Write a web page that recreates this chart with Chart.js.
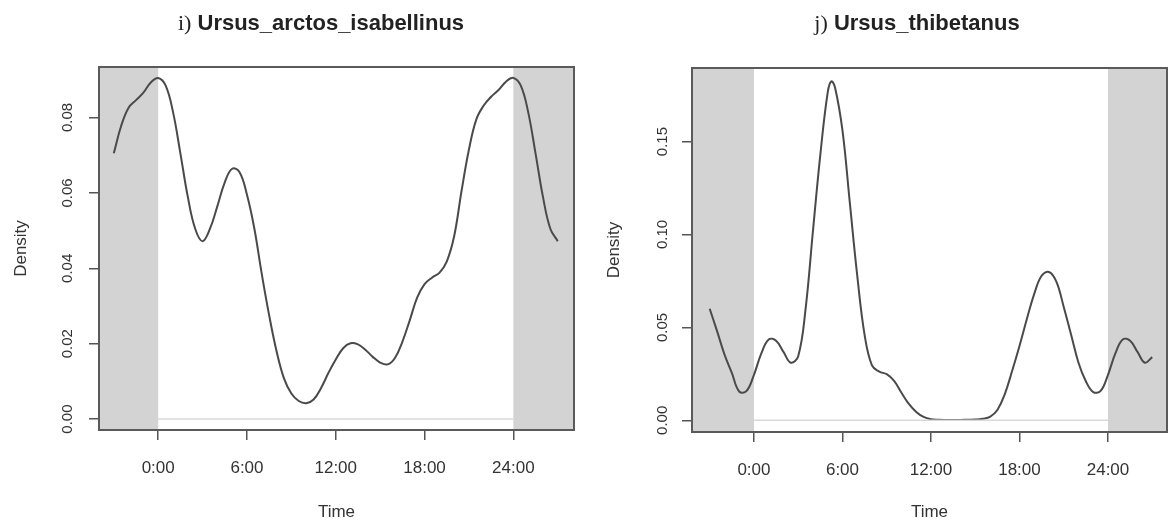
<!DOCTYPE html>
<html>
<head>
<meta charset="utf-8">
<script src="https://cdn.jsdelivr.net/npm/chart.js@4"></script>
<style>
  body { margin: 0; background: #fff; width: 1168px; height: 526px; overflow: hidden; position: relative; }
  .panel { position: absolute; top: 0; width: 584px; height: 526px; }
  .title { position: absolute; top: 12px; width: 600px; text-align: center; font-size: 22px; line-height: 22px;
           color: #222; white-space: nowrap; font-family: "Liberation Sans", Arial, sans-serif; }
  .title .tag { font-family: "Liberation Serif", serif; }
</style>
</head>
<body>
<div class="panel" style="left:0"><canvas id="chartI" width="584" height="526"></canvas></div>
<div class="panel" style="left:584px"><canvas id="chartJ" width="584" height="526"></canvas></div>
<div class="title" style="left:21px"><span class="tag">i)</span> <b>Ursus_arctos_isabellinus</b></div>
<div class="title" style="left:617px"><span class="tag">j)</span> <b>Ursus_thibetanus</b></div>

<script>
// axis ticks (hours)
const tickHours = [0, 6, 12, 18, 24];
const tickLabels = ["0:00", "6:00", "12:00", "18:00", "24:00"];
const dayEdges = [0, 24]; // grey outside of this

// i) Ursus_arctos_isabellinus
const hoursI = [-3, -2.5, -2, -1.5, -1, -0.5, 0, 0.5, 1, 1.5, 2, 2.5, 3, 3.5, 4, 4.5, 5, 5.5, 6, 6.5,
  7, 7.5, 8, 8.5, 9, 9.5, 10, 10.5, 11, 11.5, 12, 12.5, 13, 13.5, 14, 14.5, 15, 15.5, 16, 16.5,
  17, 17.5, 18, 18.5, 19, 19.5, 20, 20.5, 21, 21.5, 22, 22.5, 23, 23.5, 24, 24.5, 25, 25.5, 26, 26.5, 27];
const densityI = [0.0705, 0.0778, 0.0826, 0.0846, 0.0866, 0.0893, 0.0905, 0.0885, 0.0815, 0.0705,
  0.059, 0.0505, 0.0472, 0.0505, 0.0565, 0.0628, 0.0664, 0.0655, 0.0595, 0.0505,
  0.0385, 0.0275, 0.018, 0.0108, 0.0068, 0.0048, 0.0042, 0.0052, 0.0082, 0.0122,
  0.0158, 0.0188, 0.0201, 0.0198, 0.0184, 0.0165, 0.015, 0.0145, 0.0162, 0.0205,
  0.0262, 0.0322, 0.0358, 0.0375, 0.0388, 0.0418, 0.0485, 0.0605, 0.0715, 0.0795,
  0.0832, 0.0855, 0.0873, 0.0895, 0.0905, 0.0885, 0.0815, 0.0705, 0.059, 0.0505, 0.0472];
const yTicksI = [0, 0.02, 0.04, 0.06, 0.08];

// j) Ursus_thibetanus
const hoursJ = [-3, -2.5, -2, -1.5, -1, -0.5, 0, 0.5, 1, 1.5, 2, 2.5, 3, 3.5, 4, 4.5, 5, 5.25, 5.5, 6, 6.5,
  7, 7.5, 8, 8.5, 9, 9.5, 10, 10.5, 11, 11.5, 12, 12.5, 13, 13.5, 14, 14.5, 15, 15.5, 16, 16.5,
  17, 17.5, 18, 18.5, 19, 19.5, 20, 20.5, 21, 21.5, 22, 22.5, 23, 23.5, 24, 24.5, 25, 25.5, 26, 26.5, 27];
const densityJ = [0.060, 0.048, 0.0355, 0.0255, 0.0155, 0.0158, 0.0245, 0.036, 0.0435, 0.0428,
  0.0368, 0.031, 0.0345, 0.060, 0.102, 0.143, 0.1765, 0.1824, 0.179, 0.156, 0.117,
  0.078, 0.046, 0.0295, 0.0262, 0.0248, 0.0212, 0.0148, 0.0088, 0.0045, 0.0018,
  0.0006, 0.0003, 0.0002, 0.0002, 0.0002, 0.0003, 0.0004, 0.0008, 0.0018, 0.0055,
  0.014, 0.0265, 0.040, 0.0545, 0.068, 0.0778, 0.0798, 0.0746, 0.061, 0.046,
  0.031, 0.021, 0.0152, 0.0158, 0.0245, 0.036, 0.0435, 0.0428, 0.0368, 0.031, 0.034];
const yTicksJ = [0, 0.05, 0.10, 0.15];

// grey night bands + R style box around the plot
const framePlugin = {
  id: 'frame',
  beforeDatasetsDraw(chart) {
    const { ctx, chartArea: a, scales: { x } } = chart;
    const x0 = x.getPixelForValue(dayEdges[0]);
    const x1 = x.getPixelForValue(dayEdges[1]);
    ctx.save();
    ctx.fillStyle = '#d3d3d3';
    ctx.fillRect(a.left, a.top, x0 - a.left, a.bottom - a.top);
    ctx.fillRect(x1, a.top, a.right - x1, a.bottom - a.top);
    ctx.restore();
  },
  afterDraw(chart) {
    const { ctx, chartArea: a } = chart;
    ctx.save();
    ctx.strokeStyle = '#5a5a5a';
    ctx.lineWidth = 2;
    ctx.strokeRect(a.left, a.top, a.right - a.left, a.bottom - a.top);
    ctx.restore();
  }
};

function makeChart(id, hours, density, yTicks, xRange, yRange, lay) {
  const pts = hours.map((h, i) => ({ x: h, y: density[i] }));
  const base = dayEdges.map(h => ({ x: h, y: 0 }));
  return new Chart(id, {
    type: 'line',
    data: {
      datasets: [
        { data: base, borderColor: '#d9d9d9', borderWidth: 1.5, pointRadius: 0 },
        { data: pts, borderColor: '#4a4a4a', borderWidth: 2, pointRadius: 0, tension: 0.4 }
      ]
    },
    options: {
      responsive: false,
      animation: false,
      devicePixelRatio: 1,
      layout: { padding: { top: lay.top, right: lay.right, left: 0, bottom: 0 } },
      plugins: { legend: { display: false }, tooltip: { enabled: false }, title: { display: false } },
      scales: {
        x: {
          type: 'linear', min: xRange[0], max: xRange[1],
          afterBuildTicks: s => { s.ticks = tickHours.map(v => ({ value: v })); },
          afterFit: s => { s.height = lay.xHeight; },
          grid: { drawOnChartArea: false, tickLength: 10, color: '#555', lineWidth: 1.5 },
          border: { display: false },
          ticks: {
            autoSkip: false, maxRotation: 0, padding: 18, color: '#333',
            font: { family: 'Liberation Sans', size: 17 },
            callback: v => tickLabels[tickHours.indexOf(v)]
          },
          title: { display: true, text: 'Time', color: '#333', padding: { top: 0, bottom: 3 },
                   font: { family: 'Liberation Sans', size: 17 } }
        },
        y: {
          min: yRange[0], max: yRange[1],
          afterBuildTicks: s => { s.ticks = yTicks.map(v => ({ value: v })); },
          afterFit: s => { s.width = lay.yWidth; },
          grid: { drawOnChartArea: false, tickLength: 10, color: '#555', lineWidth: 1.5 },
          border: { display: false },
          ticks: {
            autoSkip: false, minRotation: 90, maxRotation: 90, crossAlign: 'center',
            padding: lay.yPad, color: '#333',
            font: { family: 'Liberation Sans', size: 15 },
            callback: v => v.toFixed(2)
          },
          title: { display: true, text: 'Density', color: '#333', padding: { top: lay.yTitlePad, bottom: 0 },
                   font: { family: 'Liberation Sans', size: 17 } }
        }
      }
    },
    plugins: [framePlugin]
  });
}

document.addEventListener('DOMContentLoaded', function () {
  makeChart('chartI', hoursI, densityI, yTicksI, [-4.0, 28.1], [-0.0029, 0.0934],
    { top: 67, right: 10, yWidth: 99, xHeight: 96, yPad: 7, yTitlePad: 11 });
  makeChart('chartJ', hoursJ, densityJ, yTicksJ, [-4.2, 28.0], [-0.0063, 0.1896],
    { top: 68, right: 1, yWidth: 108, xHeight: 94, yPad: 5, yTitlePad: 20 });
});
</script>
</body>
</html>
